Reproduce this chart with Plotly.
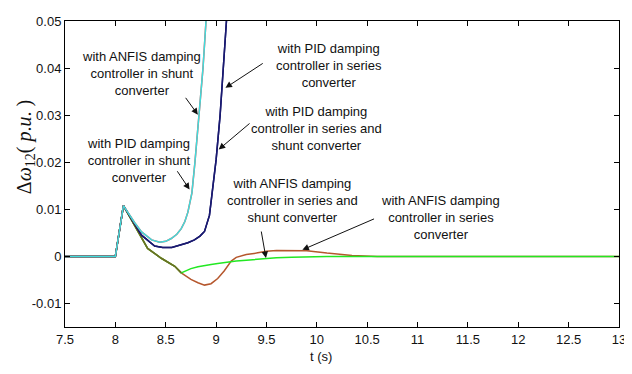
import plotly.graph_objects as go

# ---- data ----
t_shunt = [7.5, 8.0, 8.08, 8.19, 8.26, 8.36, 8.44, 8.5, 8.555, 8.61, 8.654, 8.69, 8.72, 8.76, 8.79, 8.83, 8.87, 8.90, 8.95]
anfis_shunt = [0, 0, 0.0108, 0.0072, 0.0052, 0.0035, 0.0030, 0.0032, 0.0038, 0.0047, 0.0059, 0.0074, 0.0094, 0.0135, 0.0200, 0.0300, 0.0400, 0.0500, 0.0650]
pid_shunt = [0, 0, 0.0108, 0.0072, 0.0052, 0.0035, 0.0030, 0.0032, 0.0038, 0.0047, 0.0059, 0.0074, 0.0094, 0.0135, 0.0200, 0.0300, 0.0400, 0.0500, 0.0650]

t_series = [7.5, 8.0, 8.08, 8.19, 8.26, 8.39, 8.47, 8.56, 8.65, 8.72, 8.785, 8.84, 8.885, 8.91, 8.934, 8.957, 9.0, 9.04, 9.07, 9.10, 9.15]
pid_series = [0, 0, 0.0108, 0.0070, 0.0045, 0.0022, 0.0019, 0.0019, 0.0024, 0.0029, 0.0035, 0.0043, 0.0053, 0.0068, 0.0087, 0.0128, 0.0205, 0.0300, 0.0390, 0.0490, 0.0650]
pid_series_shunt = [0, 0, 0.0108, 0.0070, 0.0045, 0.0022, 0.0019, 0.0019, 0.0024, 0.0029, 0.0035, 0.0043, 0.0053, 0.0068, 0.0087, 0.0128, 0.0205, 0.0300, 0.0390, 0.0490, 0.0650]

t_anfis = [7.5, 8.0, 8.08, 8.19, 8.32, 8.456, 8.59, 8.654, 8.70, 8.75, 8.82, 8.885, 8.95, 9.016, 9.08, 9.15, 9.2, 9.3, 9.4, 9.5, 9.6, 9.75, 9.9, 10.1, 10.35, 10.6, 11.0, 12.0, 13.0]
anfis_series = [0, 0, 0.0108, 0.0066, 0.0017, -0.0004, -0.0021, -0.0035, -0.0042, -0.0049, -0.0056, -0.0061, -0.0058, -0.0047, -0.0031, -0.0010, -0.0002, 0.0004, 0.0007, 0.0011, 0.00125, 0.0013, 0.0012, 0.0007, 0.0002, 0.0, 0.0, 0.0, 0.0]
anfis_series_shunt = [0, 0, 0.0108, 0.0066, 0.0017, -0.0004, -0.0021, -0.0035, -0.0030, -0.0026, -0.0022, -0.0019, -0.0017, -0.0015, -0.0013, -0.0011, -0.0010, -0.0008, -0.0006, -0.0004, -0.0003, -0.0002, -0.0001, 0.0, 0.0, 0.0, 0.0, 0.0, 0.0]
n_common = 8  # points where both ANFIS curves coincide

x_ticks = [7.5, 8, 8.5, 9, 9.5, 10, 10.5, 11, 11.5, 12, 12.5, 13]
x_labels = ["7.5", "8", "8.5", "9", "9.5", "10", "10.5", "11", "11.5", "12", "12.5", "13"]
y_ticks = [-0.01, 0, 0.01, 0.02, 0.03, 0.04, 0.05]
y_labels = ["-0.01", "0", "0.01", "0.02", "0.03", "0.04", "0.05"]

fig = go.Figure()
lw = 1.5
fig.add_trace(go.Scatter(x=t_anfis, y=anfis_series, mode="lines", line=dict(color="#b5562c", width=lw)))
fig.add_trace(go.Scatter(x=t_anfis, y=anfis_series_shunt, mode="lines", line=dict(color="#22e822", width=lw)))
fig.add_trace(go.Scatter(x=t_anfis[:n_common], y=anfis_series[:n_common], mode="lines", line=dict(color="#6e6a24", width=lw)))
fig.add_trace(go.Scatter(x=t_series, y=pid_series_shunt, mode="lines", line=dict(color="#000060", width=lw)))
fig.add_trace(go.Scatter(x=t_series, y=pid_series, mode="lines", line=dict(color="#1a1a70", width=lw)))
fig.add_trace(go.Scatter(x=t_shunt, y=pid_shunt, mode="lines", line=dict(color="#ff4040", width=lw)))
fig.add_trace(go.Scatter(x=t_shunt, y=anfis_shunt, mode="lines", line=dict(color="#3fdcdc", width=lw)))

font = dict(family="Liberation Sans, Arial, sans-serif", size=13, color="#111111")

texts = [
    ("with ANFIS damping<br>controller in shunt<br>converter", 8.262, 0.0389),
    ("with PID damping<br>controller in shunt<br>converter", 8.232, 0.0204),
    ("with PID damping<br>controller in series<br>converter", 10.121, 0.0406),
    ("with PID damping<br>controller in series and<br>shunt converter", 9.993, 0.0271),
    ("with ANFIS damping<br>controller in series and<br>shunt converter", 9.758, 0.0118),
    ("with ANFIS damping<br>controller in series<br>converter", 11.226, 0.0083),
]
for txt, x, y in texts:
    fig.add_annotation(x=x, y=y, text=txt, showarrow=False, font=font, align="center",
                       xanchor="center", yanchor="middle")

arrows = [
    (8.687, 0.0340, 8.819, 0.0301),
    (8.605, 0.0184, 8.737, 0.0142),
    (9.478, 0.0412, 9.093, 0.0358),
    (9.347, 0.0285, 9.026, 0.0227),
    (9.446, 0.0056, 9.495, -0.00035),
    (10.583, 0.0081, 9.857, 0.0014),
]
for ax, ay, x, y in arrows:
    fig.add_annotation(x=x, y=y, ax=ax, ay=ay, axref="x", ayref="y", xref="x", yref="y",
                       text="", showarrow=True, arrowhead=2, arrowsize=1.3, arrowwidth=1,
                       arrowcolor="#111111")

# axis titles (placed as in the reference)
fig.add_annotation(x=0.462, y=-0.096, xref="paper", yref="paper", text="t (s)", showarrow=False,
                   xanchor="center", yanchor="middle", font=font)
fig.add_annotation(x=-0.072, y=0.588, xref="paper", yref="paper",
                   text="Δ<i>ω</i><sub>12</sub>( <i>p</i>.<i>u</i>. )", showarrow=False, textangle=-90,
                   xanchor="center", yanchor="middle",
                   font=dict(family="Liberation Serif, Times New Roman, serif", size=20, color="#111111"))

axis_common = dict(showgrid=False, zeroline=False, showline=True, linecolor="#000000", linewidth=1,
                   mirror="ticks", ticks="inside", ticklen=5, tickcolor="#000000",
                   tickfont=font, ticklabeloverflow="allow")

# page has an 8px body margin, so the figure is sized to fit the 632x374 window
fig.update_layout(
    width=624, height=366,
    margin=dict(l=57, r=11, t=6, b=47),
    paper_bgcolor="white", plot_bgcolor="white",
    showlegend=False,
    xaxis=dict(range=[7.5, 13], tickvals=x_ticks, ticktext=x_labels, **axis_common),
    yaxis=dict(range=[-0.015, 0.05], tickvals=y_ticks, ticktext=y_labels, **axis_common),
)

fig.write_html("out.html")
